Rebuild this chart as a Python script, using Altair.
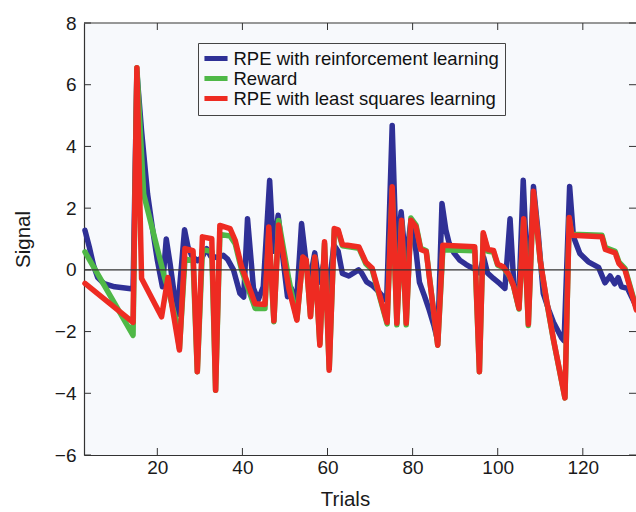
import altair as alt
import pandas as pd

# ---- data (trial, signal) ----
rl_trial = [3.0, 4.0, 5.0, 6.0, 7.5, 10.0, 14.3, 15.2, 16.3, 17.7, 18.8, 20.0, 21.2,
            22.1, 23.0, 24.0, 24.7, 26.4, 27.2, 28.2, 29.5, 30.5, 31.6, 32.5, 34.0,
            35.5, 36.5, 37.9, 39.4, 40.3, 41.2, 42.6, 43.7, 44.9, 46.4, 47.3, 48.4,
            49.5, 50.6, 51.5, 52.7, 53.9, 55.0, 55.9, 57.0, 58.0, 59.3, 60.2, 61.5,
            62.5, 63.5, 65.0, 67.3, 68.0, 69.2, 70.5, 72.0, 73.9, 75.2, 76.2, 77.3,
            78.4, 79.6, 80.8, 81.6, 82.8, 83.9, 85.0, 85.9, 86.9, 87.8, 88.6, 89.7,
            91.1, 92.5, 93.5, 95.0, 95.7, 96.7, 97.6, 99.0, 100.5, 101.7, 102.9,
            103.8, 104.9, 106.0, 107.2, 108.4, 109.5, 110.7, 112.0, 113.1, 115.0,
            115.6, 116.9, 117.8, 119.3, 121.3, 123.7, 125.2, 126.4, 127.5, 128.3,
            129.1, 130.5, 132.6]
rl_signal = [1.28, 0.75, 0.15, -0.25, -0.45, -0.55, -0.62, 6.4, 4.5, 2.47, 1.4, 0.32, -0.55,
             1.0, 0.2, -0.8, -1.45, 1.3, 0.75, 0.42, 0.3, 0.4, 0.69, 0.45, 0.4,
             0.47, 0.35, 0.0, -0.76, -0.88, 1.66, -0.6, -0.98, -0.55, 2.9, 0.6, 1.77,
             0.4, -0.87, -0.6, -1.1, 1.5, 0.2, -0.3, 0.55, -0.4, 0.3, -0.7, 0.8,
             0.6, -0.12, -0.2, 0.0, -0.1, -0.39, -0.5, -0.7, -1.0, 4.68, 0.3, 1.88,
             0.2, 1.6, 0.6, -0.4, -0.85, -1.3, -1.8, -2.3, 2.15, 1.3, 0.86, 0.55,
             0.31, 0.18, 0.1, 0.0, -0.1, 0.4, -0.1, -0.28, -0.45, -0.6, 1.66,
             -0.5, -1.15, 2.9, -0.9, 2.7, 1.2, -0.76, -1.3, -1.7, -2.2,
             -2.3, 2.7, 1.07, 0.53, 0.26, 0.08, -0.42, -0.2, -0.45, -0.25,
             -0.55, -0.6, -1.2]

rw_trial = [3.0, 14.3, 15.2, 16.8, 21.8, 22.5, 24.3, 25.2, 26.5, 28.4, 29.4, 30.6, 32.8,
            33.7, 34.7, 37.1, 38.3, 39.8, 43.0, 45.3, 46.2, 47.4, 48.5, 50.9, 52.8,
            54.2, 55.0, 56.0, 57.0, 58.2, 59.3, 60.4, 61.6, 62.5, 63.5, 67.4, 69.0,
            70.5, 74.0, 75.2, 76.3, 77.4, 78.5, 79.6, 80.8, 81.9, 83.2, 85.9, 87.1,
            94.6, 95.7, 96.6, 97.7, 99.0, 100.0, 101.3, 102.6, 103.7, 105.0, 106.1,
            107.2, 108.4, 110.0, 111.5, 113.1, 115.8, 116.8, 117.4, 124.5, 125.3,
            127.6, 128.5, 129.9, 132.6]
rw_signal = [0.58, -2.12, 6.55, 2.45, -0.3, -0.6, -1.6, -2.55, 0.35, 0.3, -3.3, 0.65, 0.6,
             -3.9, 1.15, 1.1, 0.85, 0.0, -1.25, -1.25, 1.2, -1.68, 1.6, -0.3, -1.6,
             0.4, 0.3, -1.5, 0.4, -2.4, 0.85, -3.2, 1.3, 1.25, 0.78, 0.7, 0.2,
             0.0, -1.75, 2.6, -1.78, 1.55, -1.78, 1.68, 1.45, 0.7, 0.62, -2.44, 0.65,
             0.62, -3.3, 1.15, 0.6, 0.58, 0.15, 0.08, -0.17, -0.52, -1.27, 1.6,
             -1.8, 2.5, 0.28, -1.02, -2.27, -4.15, 1.66, 1.15, 1.12, 0.72,
             0.6, 0.25, 0.05, -1.25]

ls_trial = [3.0, 14.3, 15.2, 16.3, 21.0, 22.5, 23.5, 25.2, 26.5, 28.4, 29.4, 30.6, 32.8,
            33.7, 34.7, 37.1, 38.3, 39.8, 43.0, 45.3, 46.2, 47.4, 48.5, 50.9, 52.8,
            54.2, 55.0, 56.0, 57.0, 58.2, 59.3, 60.4, 61.6, 62.5, 63.5, 67.4, 69.0,
            70.5, 74.0, 75.2, 76.3, 77.4, 78.5, 79.6, 80.8, 81.9, 83.2, 85.9, 87.1,
            94.6, 95.7, 96.6, 97.7, 99.0, 100.0, 101.3, 102.6, 103.7, 105.0, 106.1,
            107.2, 108.4, 110.0, 111.5, 113.1, 115.8, 116.8, 117.4, 124.5, 125.3,
            127.6, 128.5, 129.9, 132.6]
ls_signal = [-0.44, -1.70, 6.55, -0.28, -1.52, -0.25, -1.2, -2.60, 0.69, 0.62, -3.30, 1.07, 1.01,
             -3.90, 1.44, 1.34, 0.96, 0.10, -1.10, -1.12, 1.39, -1.65, 1.45, -0.60, -1.63,
             0.42, 0.31, -1.52, 0.42, -2.44, 0.91, -3.25, 1.34, 1.30, 0.82, 0.74, 0.25,
             0.05, -1.70, 2.69, -1.73, 1.61, -1.73, 1.61, 1.39, 0.66, 0.59, -2.44, 0.80,
             0.75, -3.30, 1.20, 0.66, 0.63, 0.18, 0.10, -0.15, -0.50, -1.25, 1.66,
             -1.76, 2.55, 0.30, -1.00, -2.25, -4.15, 1.70, 1.12, 1.07, 0.66,
             0.55, 0.20, 0.00, -1.30]

series_names = ["RPE with reinforcement learning", "Reward", "RPE with least squares learning"]
series_colors = ["#2f3096", "#4fb847", "#ee2b22"]
x_ticks = [20, 40, 60, 80, 100, 120]
y_ticks = [-6, -4, -2, 0, 2, 4, 6, 8]

frames = []
for name, xs, ys in zip(series_names, [rl_trial, rw_trial, ls_trial], [rl_signal, rw_signal, ls_signal]):
    frames.append(pd.DataFrame({"trial": xs, "signal": ys, "series": name}))
df = pd.concat(frames, ignore_index=True)

W, H = 552, 432
FONT = "Liberation Sans"

xscale = alt.Scale(domain=[2.77, 132.5], nice=False, zero=False)
yscale = alt.Scale(domain=[-6, 8], nice=False, zero=False)
cscale = alt.Scale(domain=series_names, range=series_colors)

xaxis = alt.Axis(values=x_ticks, title="Trials", titleX=261, titleY=50,
                 titleBaseline="alphabetic", labelPadding=3)
yaxis = alt.Axis(values=y_ticks, title="Signal", titleX=-55, titleY=216,
                 titleBaseline="alphabetic", labelPadding=8)
legend = alt.Legend(title=None, orient="none", legendX=114, legendY=20,
                    symbolType="M-1.65,0H1.65", symbolStrokeWidth=5, symbolSize=196,
                    symbolOffset=2.5,
                    labelFont=FONT, labelFontSize=18.5, labelColor="#111",
                    labelOffset=8, labelLimit=400, rowPadding=-1.5, padding=6,
                    strokeColor="#444", fillColor="#f8f9fc", cornerRadius=0)


def X(field):
    return alt.X(field, type="quantitative", scale=xscale, axis=xaxis, title="Trials")


def Y(field):
    return alt.Y(field, type="quantitative", scale=yscale, axis=yaxis, title="Signal")


def line_layer(name):
    return (alt.Chart(df).transform_filter(alt.datum.series == name)
            .mark_line(strokeWidth=5.5, strokeJoin="round", strokeCap="round")
            .encode(x=X("trial"), y=Y("signal"),
                    color=alt.Color("series:N", scale=cscale, legend=legend)))


layers = [line_layer(n) for n in series_names]

zero = alt.Chart(pd.DataFrame({"v": [0]})).mark_rule(color="#333", strokeWidth=1.2).encode(y=Y("v"))
top_border = alt.Chart(pd.DataFrame({"v": [8]})).mark_rule(color="#333", strokeWidth=1.2).encode(y=Y("v"))

ydf = pd.DataFrame({"v": y_ticks})
xdf = pd.DataFrame({"v": x_ticks})
left_ticks = alt.Chart(ydf).mark_rule(color="#333", strokeWidth=1).encode(
    y=Y("v"), x=alt.value(0), x2=alt.value(7))
right_ticks = alt.Chart(ydf).mark_rule(color="#333", strokeWidth=1).encode(
    y=Y("v"), x=alt.value(W - 7), x2=alt.value(W))
bottom_ticks = alt.Chart(xdf).mark_rule(color="#333", strokeWidth=1).encode(
    x=X("v"), y=alt.value(H), y2=alt.value(H - 7))
top_ticks = alt.Chart(xdf).mark_rule(color="#333", strokeWidth=1).encode(
    x=X("v"), y=alt.value(0), y2=alt.value(7))

chart = alt.layer(*layers, zero, top_border, left_ticks, right_ticks, bottom_ticks, top_ticks).properties(
    width=W, height=H,
    autosize=alt.AutoSizeParams(type="none"),
    padding={"left": 84, "top": 23, "right": 0, "bottom": 57},
    background="white",
).configure_view(
    fill="#f7f9fc", stroke="transparent"
).configure_axis(
    domainColor="#333", domainWidth=1.2, ticks=False, tickSize=0, grid=False,
    labelFont=FONT, labelFontSize=19, labelColor="#1a1a1a",
    titleFont=FONT, titleFontSize=20.5, titleFontWeight="normal", titleColor="#1a1a1a",
)

chart.save("out.html", embed_options={"renderer": "svg", "actions": False})
